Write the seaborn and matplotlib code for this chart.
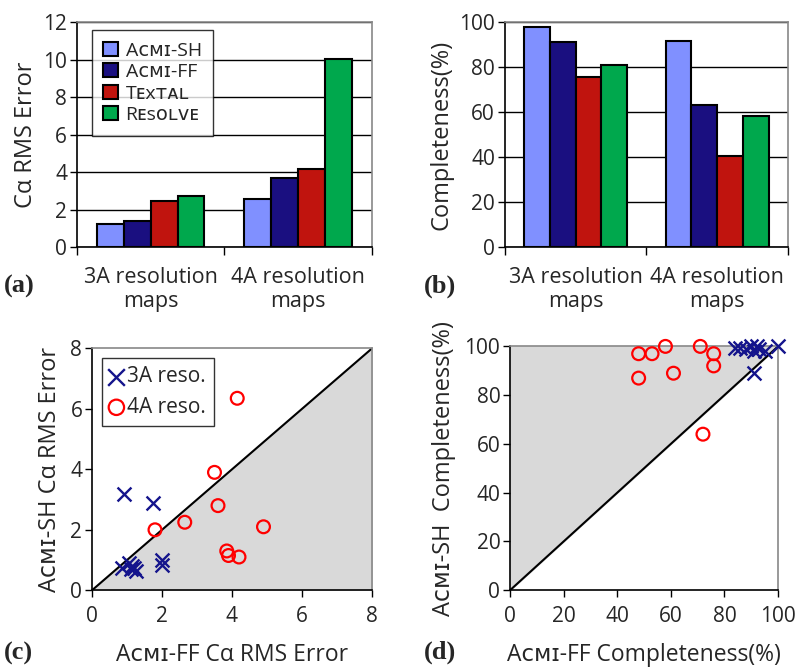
import matplotlib
matplotlib.use("Agg")
import matplotlib.pyplot as plt
import pandas as pd
import numpy as np
import seaborn as sns

# bar panels (a) and (b)
groups = ["3A resolution\nmaps", "4A resolution\nmaps"]
methods = ["Aᴄᴍɪ-SH", "Aᴄᴍɪ-FF", "Tᴇxᴛᴀʟ", "Rᴇsᴏʟᴠᴇ"]
colors = ["#8090ff", "#1a0f80", "#c0140e", "#00a84d"]
rms_3a = [1.25, 1.4, 2.45, 2.75]
rms_4a = [2.55, 3.7, 4.15, 10.05]
comp_3a = [98, 91, 75.5, 81]
comp_4a = [91.5, 63, 40.5, 58.5]

# scatter panel (c): ACMI-FF vs ACMI-SH rms error
c3_ff = [0.9, 1.75, 0.85, 1.05, 1.1, 1.2, 1.25, 1.15, 2.0, 2.0]
c3_sh = [3.2, 2.9, 0.75, 0.9, 0.7, 0.75, 0.65, 0.8, 1.0, 0.85]
c4_ff = [1.8, 2.65, 3.5, 3.6, 4.15, 4.9, 3.85, 3.9, 4.2]
c4_sh = [2.0, 2.25, 3.9, 2.8, 6.35, 2.1, 1.3, 1.15, 1.1]

# scatter panel (d): completeness
d3_ff = [84, 86, 88, 90, 91, 92, 93, 95, 100, 91]
d3_sh = [99.5, 99.5, 99, 100, 98, 100, 99, 98, 100, 89]
d4_ff = [48, 53, 58, 71, 76, 76, 48, 61, 72]
d4_sh = [97, 97, 100, 100, 97, 92, 87, 89, 64]

sns.set_theme(style="white")
plt.rcParams["font.family"] = ["Open Sans", "DejaVu Sans"]
plt.rcParams["axes.linewidth"] = 1.2

fig = plt.figure(figsize=(8, 6.7), dpi=100)
ax_a = fig.add_axes([0.096, 0.631, 0.369, 0.336])
ax_b = fig.add_axes([0.631, 0.631, 0.354, 0.336])
ax_c = fig.add_axes([0.115, 0.119, 0.35, 0.361])
ax_d = fig.add_axes([0.6375, 0.119, 0.335, 0.364])


def frame(ax):
    ax.spines["left"].set_color("black")
    ax.spines["bottom"].set_color("black")
    ax.spines["top"].set_color("#888888")
    ax.spines["right"].set_color("#888888")
    ax.tick_params(axis="y", left=True, direction="out", length=5, width=1,
                   color="black", labelsize=15, pad=2)


def bar_panel(ax, v3, v4, top, step, ylabel, legend):
    df = pd.DataFrame({"group": np.repeat(groups, 4),
                       "method": methods * 2,
                       "value": v3 + v4})
    sns.barplot(data=df, x="group", y="value", hue="method", palette=colors,
                saturation=1, width=0.73, edgecolor="black", linewidth=1.5,
                ax=ax, legend=legend)
    frame(ax)
    ax.set_xlim(-0.5, 1.5)
    ax.set_ylim(0, top)
    ax.set_yticks(np.arange(0, top + 1, step))
    ax.yaxis.grid(True, color="black", linewidth=1)
    ax.set_axisbelow(True)
    ax.set_xticks([-0.5, 0.5, 1.5], minor=True)
    ax.tick_params(axis="x", which="minor", bottom=True, length=6, width=1, color="black")
    ax.tick_params(axis="x", which="major", length=0, labelsize=15.5, pad=14)
    ax.set_xlabel("")
    ax.set_ylabel(ylabel, fontsize=17, labelpad=4)


bar_panel(ax_a, rms_3a, rms_4a, 12, 2, "Cα RMS Error", True)
bar_panel(ax_b, comp_3a, comp_4a, 100, 20, "Completeness(%)", False)

h, l = ax_a.get_legend_handles_labels()
leg = ax_a.legend(h, l, loc="upper left", bbox_to_anchor=(0.05, 0.965),
                  fontsize=14, frameon=True, fancybox=False, edgecolor="black",
                  handlelength=0.75, handleheight=0.75, handletextpad=0.4,
                  labelspacing=0.18, borderpad=0.6, borderaxespad=0)
leg.get_frame().set_linewidth(1)


def scatter_panel(ax, x3, y3, x4, y4, top, step, xlabel, ylabel, shade_above, legend):
    d3 = pd.DataFrame({"ff": x3, "sh": y3})
    d4 = pd.DataFrame({"ff": x4, "sh": y4})
    diag = np.array([0, top])
    if shade_above:
        ax.fill_between(diag, diag, top, color="#d9d9d9", zorder=0)
    else:
        ax.fill_between(diag, 0, diag, color="#d9d9d9", zorder=0)
    ax.plot(diag, diag, color="black", linewidth=1.5, zorder=1)
    sns.scatterplot(data=d3, x="ff", y="sh", marker="x", color="#14148c", s=100,
                    linewidth=1.7, ax=ax, label="3A reso.", zorder=3, clip_on=False)
    sns.scatterplot(data=d4, x="ff", y="sh", marker="o", facecolor="none",
                    edgecolor="#ff0000", s=85, linewidth=1.6, ax=ax,
                    label="4A reso.", zorder=3, clip_on=False)
    frame(ax)
    ax.set_xlim(0, top)
    ax.set_ylim(0, top)
    ax.set_xticks(np.arange(0, top + 1, step))
    ax.set_yticks(np.arange(0, top + 1, step))
    ax.tick_params(axis="x", bottom=True, direction="out", length=5, width=1,
                   color="black", labelsize=15, pad=6)
    ax.set_xlabel(xlabel, fontsize=16.5, labelpad=12)
    ax.set_ylabel(ylabel, fontsize=17, labelpad=6)
    if legend:
        lg = ax.legend(loc="upper left", bbox_to_anchor=(0.035, 0.96), fontsize=15,
                       frameon=True, fancybox=False, edgecolor="black",
                       markerscale=1.2, handlelength=0.6, handletextpad=0.2,
                       labelspacing=0.45, borderpad=0.4, borderaxespad=0)
        lg.get_frame().set_linewidth(1)
    else:
        ax.get_legend().remove()


scatter_panel(ax_c, c3_ff, c3_sh, c4_ff, c4_sh, 8, 2,
              "Aᴄᴍɪ-FF Cα RMS Error", "Aᴄᴍɪ-SH Cα RMS Error", False, True)
scatter_panel(ax_d, d3_ff, d3_sh, d4_ff, d4_sh, 100, 20,
              "Aᴄᴍɪ-FF Completeness(%)", "Aᴄᴍɪ-SH  Completeness(%)", True, False)

for txt, x, y in [("(a)", 0.005, 0.572), ("(b)", 0.53, 0.572),
                  ("(c)", 0.005, 0.024), ("(d)", 0.53, 0.027)]:
    fig.text(x, y, txt, fontsize=19, fontweight="bold",
             family="Liberation Serif", va="center")

fig.savefig("out.png", dpi=100)
